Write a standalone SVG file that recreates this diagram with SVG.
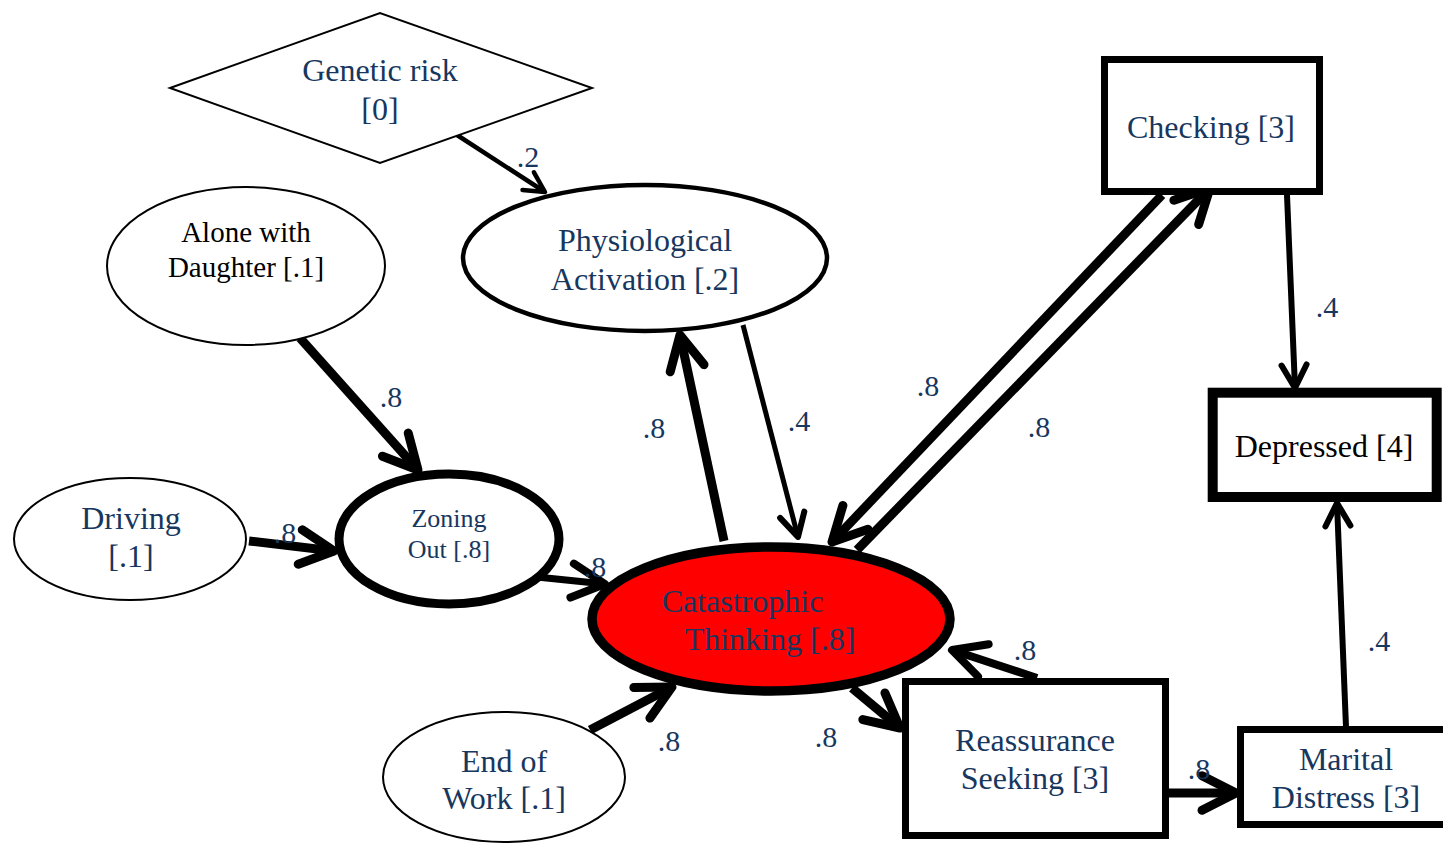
<svg xmlns="http://www.w3.org/2000/svg" width="1443" height="844" viewBox="0 0 1443 844">
<style>
text{font-family:"Liberation Serif","Times New Roman",serif;text-anchor:middle;fill:#17375E}
.n{font-size:32px}
.lbl{font-size:30px}
.blk{fill:#000}
.c{fill:none;stroke:#000;stroke-linecap:butt}
.node{fill:#fff;stroke:#000}
</style>
<defs>
<marker id="big" markerUnits="userSpaceOnUse" orient="auto" overflow="visible" markerWidth="1" markerHeight="1">
<path d="M-34,-17.3 L0,0 L-34,17.3" fill="none" stroke="#000" stroke-width="9" stroke-linecap="round" stroke-linejoin="round"/>
</marker>
<marker id="mid" markerUnits="userSpaceOnUse" orient="auto" overflow="visible" markerWidth="1" markerHeight="1">
<path d="M-33,-17 L0,0 L-33,17" fill="none" stroke="#000" stroke-width="8" stroke-linecap="round" stroke-linejoin="round"/>
</marker>
<marker id="small" markerUnits="userSpaceOnUse" orient="auto" overflow="visible" markerWidth="1" markerHeight="1">
<path d="M-23,-12.5 L0,0 L-23,12.5" fill="none" stroke="#000" stroke-width="6" stroke-linecap="round" stroke-linejoin="round"/>
</marker>
<marker id="thin" markerUnits="userSpaceOnUse" orient="auto" overflow="visible" markerWidth="1" markerHeight="1">
<path d="M-20,-10.5 L0,0 L-20,10.5" fill="none" stroke="#000" stroke-width="4.5" stroke-linecap="round" stroke-linejoin="round"/>
</marker>
</defs>
<rect width="1443" height="844" fill="#fff"/>
<g id="connectors">
<path class="c" d="M457,135 L545,192" stroke-width="4.5" marker-end="url(#thin)"/>
<path class="c" d="M300,338 L418,470" stroke-width="9" marker-end="url(#big)"/>
<path class="c" d="M249,541 L334,551" stroke-width="9" marker-end="url(#big)"/>
<path class="c" d="M527,576 L605,584" stroke-width="7" marker-end="url(#mid)"/>
<path class="c" d="M724,541 L680,335" stroke-width="9" marker-end="url(#big)"/>
<path class="c" d="M743,325 L798,537" stroke-width="5" marker-end="url(#small)"/>
<path class="c" d="M1162,195 L832,542" stroke-width="9" marker-end="url(#big)"/>
<path class="c" d="M857,550 L1210,188" stroke-width="9" marker-end="url(#big)"/>
<path class="c" d="M1287,195 L1295,388" stroke-width="6" marker-end="url(#small)"/>
<path class="c" d="M1346,727 L1337,503" stroke-width="6" marker-end="url(#small)"/>
<path class="c" d="M852,688 L900,728" stroke-width="9" marker-end="url(#big)"/>
<path class="c" d="M1037,678 L952,650" stroke-width="8" marker-end="url(#mid)"/>
<path class="c" d="M1169,793 L1236,793" stroke-width="9" marker-end="url(#big)"/>
<path class="c" d="M590,730 L672,687" stroke-width="9" marker-end="url(#big)"/>
</g>
<g id="genetic">
<polygon class="node" points="170,88 380,13 592,88 380,163" stroke-width="2"/>
<text class="n" x="380" y="81">Genetic risk</text>
<text class="n" x="380" y="120">[0]</text>
</g>
<g id="alone">
<ellipse class="node" cx="246" cy="266" rx="139" ry="79" stroke-width="2"/>
<text class="blk" x="246" y="242" style="font-size:29px">Alone with</text>
<text class="blk" x="246" y="277" style="font-size:29px">Daughter [.1]</text>
</g>
<g id="physio">
<ellipse class="node" cx="645" cy="258" rx="182" ry="73" stroke-width="4.5"/>
<text class="n" x="645" y="251">Physiological</text>
<text class="n" x="645" y="290">Activation [.2]</text>
</g>
<g id="driving">
<ellipse class="node" cx="130" cy="539" rx="116" ry="61" stroke-width="2"/>
<text class="n" x="131" y="529">Driving</text>
<text class="n" x="131" y="567">[.1]</text>
</g>
<g id="zoning">
<ellipse class="node" cx="449" cy="539" rx="110" ry="65" stroke-width="9"/>
<text x="449" y="527" style="font-size:26px">Zoning</text>
<text x="449" y="558" style="font-size:26px">Out [.8]</text>
</g>
<g id="catastrophic">
<ellipse cx="771" cy="619" rx="179" ry="72" fill="#FF0000" stroke="#000" stroke-width="9.5"/>
<text class="n" x="742.5" y="612">Catastrophic</text>
<text class="n" x="770" y="650">Thinking [.8]</text>
</g>
<g id="endwork">
<ellipse class="node" cx="504" cy="777" rx="121" ry="65" stroke-width="2"/>
<text class="n" x="504" y="772">End of</text>
<text class="n" x="504" y="809">Work [.1]</text>
</g>
<g id="checking">
<rect class="node" x="1104.5" y="59.5" width="215" height="132" stroke-width="7"/>
<text class="n" x="1211" y="138">Checking [3]</text>
</g>
<g id="depressed">
<rect class="node" x="1212.7" y="392.7" width="224" height="104.3" stroke-width="10"/>
<text class="n blk" x="1324" y="457">Depressed [4]</text>
</g>
<g id="reassurance">
<rect class="node" x="905.5" y="681.5" width="260" height="154" stroke-width="7"/>
<text class="n" x="1035" y="751">Reassurance</text>
<text class="n" x="1035" y="789">Seeking [3]</text>
</g>
<g id="marital">
<rect class="node" x="1240.5" y="729.5" width="210" height="95" stroke-width="7"/>
<text class="n" x="1346" y="770">Marital</text>
<text class="n" x="1346" y="808">Distress [3]</text>
</g>
<g id="labels">
<text class="lbl" x="528" y="167">.2</text>
<text class="lbl" x="391" y="407">.8</text>
<text class="lbl" x="285" y="543">.8</text>
<text class="lbl" x="595" y="577">.8</text>
<text class="lbl" x="654" y="438">.8</text>
<text class="lbl" x="799" y="431">.4</text>
<text class="lbl" x="928" y="396">.8</text>
<text class="lbl" x="1039" y="437">.8</text>
<text class="lbl" x="1327" y="317">.4</text>
<text class="lbl" x="1379" y="651">.4</text>
<text class="lbl" x="1025" y="660">.8</text>
<text class="lbl" x="826" y="747">.8</text>
<text class="lbl" x="669" y="751">.8</text>
<text class="lbl" x="1199" y="779">.8</text>
</g>
</svg>
